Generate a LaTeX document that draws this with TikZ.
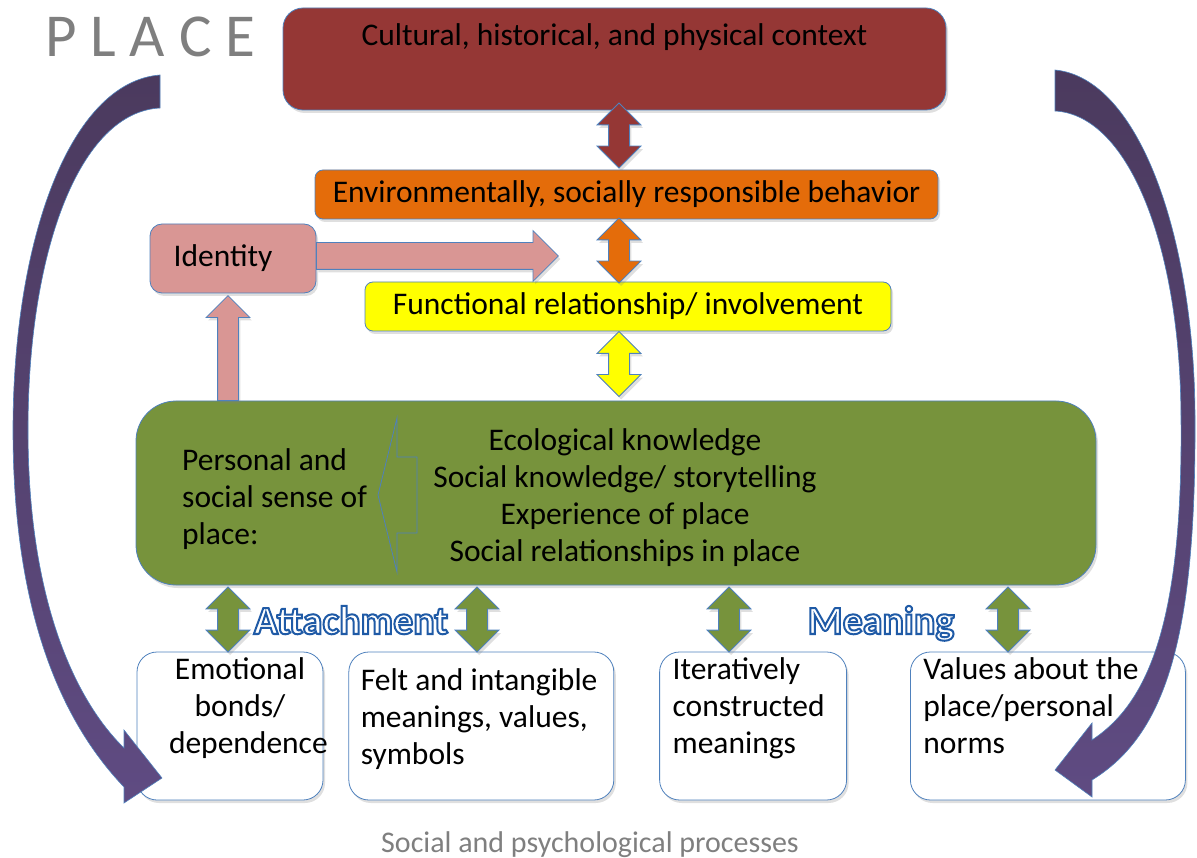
\documentclass[tikz,border=0pt]{standalone}
\usepackage{fontspec}
\setmainfont{Carlito}
\usetikzlibrary{shapes, arrows, positioning, shadows}
\definecolor{rojo}{HTML}{953735}
\definecolor{naranja}{HTML}{E46C0A}
\definecolor{amarillo}{HTML}{FFFF00}
\definecolor{rosa}{HTML}{D99694}
\definecolor{verde}{HTML}{77933C}
\definecolor{borde}{HTML}{4F81BD}
\definecolor{gris}{HTML}{7F7F7F}
\definecolor{moradoarriba}{HTML}{4B3A5E}
\definecolor{moradoabajo}{HTML}{5F4B82}
% hollow blue-outlined words
\newcommand{\hueco}[1]{\special{pdf:literal direct q 2 Tr 2 w 0.122 0.353 0.651 RG 1 1 1 rg}#1\special{pdf:literal direct Q}}
\tikzstyle{sombra} = [drop shadow={opacity=0.25, shadow xshift=2pt, shadow yshift=-3pt}]
\tikzstyle{caja} = [draw=borde, line width=0.8pt, rectangle, rounded corners=20pt, inner sep=0pt, sombra]
\tikzstyle{cajablanca} = [caja, fill=white, inner xsep=12pt, inner ysep=6pt, minimum height=148pt]
\tikzstyle{flechadoble} = [double arrow, draw=borde, line width=0.8pt, rotate=90, minimum height=65pt, inner xsep=0pt, inner ysep=10pt, double arrow head extend=11.5pt, sombra]
\tikzstyle{flecha} = [single arrow, draw=borde, line width=0.8pt, inner xsep=0pt, sombra]
\tikzstyle{curva} = [draw=borde, line width=0.6pt, top color=moradoarriba, bottom color=moradoabajo]
\tikzstyle{palabra} = [font=\fontsize{40}{48}\selectfont\bfseries, anchor=base, inner sep=0pt]

\begin{document}
\begin{tikzpicture}[x=1pt, y=-1pt, every node/.style={font=\fontsize{31.5}{37}\selectfont}]
	\useasboundingbox (0,0) rectangle (1197,858);
	% upper chain
	\node [caja, fill=rojo, minimum width=663pt, text height=38pt, text depth=64pt] (contexto) at (614.5,59) {Cultural, historical, and physical context};
	\node [caja, fill=naranja, rounded corners=8pt, minimum width=623pt, minimum height=49pt] (conducta) at (626.5,194.5) {Environmentally, socially responsible behavior};
	\node [caja, fill=amarillo, rounded corners=8pt, minimum width=526pt, minimum height=49pt] (funcional) at (628,306.5) {Functional relationship/ involvement};
	\node [caja, fill=rosa, rounded corners=12pt, minimum width=166pt, minimum height=69pt] (identidad) at (233,258.5) {\hspace*{-20pt}Identity};
	\node [caja, fill=verde, rounded corners=40pt, minimum width=960pt, minimum height=184pt] (sentido) at (616,493) {};
	\draw [draw=borde, line width=0.8pt] (378,495) -- (397,418) -- (397,457) -- (417,457) -- (417,533) -- (397,533) -- (397,572) -- cycle;
	\node [anchor=north west, align=left, inner sep=0pt] (personal) at (182,448) {Personal and\\social sense of\\place:};
	\node [anchor=north, align=center, inner sep=0pt] (saberes) at (625,428) {Ecological knowledge\\Social knowledge/ storytelling\\Experience of place\\Social relationships in place};

	\node [flechadoble, fill=rojo] (f1) at (619,135.5) {};
	\node [flechadoble, fill=naranja] (f2) at (619,250.5) {};
	\node [flechadoble, fill=amarillo] (f3) at (619,364) {};
	\node [flecha, fill=rosa, minimum height=242pt, inner ysep=13pt, single arrow head extend=12pt, anchor=tail] (haciaconducta) at (316,256) {};
	\node [flecha, fill=rosa, rotate=90, minimum height=105pt, inner ysep=10pt, single arrow head extend=11.5pt, anchor=tail] (haciaidentidad) at (228,401) {};

	% lower boxes
	\node [cajablanca, minimum width=186pt] (emocional) at (230,726) {\begin{minipage}[t][136pt][t]{162pt}\centering\leftskip=20pt plus 1fil Emotional\\ bonds/\\ dependence\end{minipage}};
	\node [cajablanca, minimum width=265pt, right=25pt of emocional] (sentido2) {\begin{minipage}[t][136pt][t]{241pt}\raggedright\vspace*{11pt}Felt and intangible\\ meanings, values,\\ symbols\end{minipage}};
	\node [cajablanca, minimum width=187pt, right=45pt of sentido2] (iterativo) {\begin{minipage}[t][136pt][t]{161pt}\raggedright Iteratively\\ constructed\\ meanings\end{minipage}};
	\node [cajablanca, minimum width=275pt, right=63pt of iterativo] (valores) {\begin{minipage}[t][136pt][t]{249pt}\raggedright Values about the\\ place/personal\\ norms\end{minipage}};

	\foreach \x/\n in {228/g1, 477/g2, 729/g3, 1008/g4}
		\node [flechadoble, fill=verde] (\n) at (\x,619.5) {};
	\node [palabra] (apego) at (351,634) {\hueco{Attachment}};
	\node [palabra] (significado) at (881,634) {\hueco{Meaning}};

	\node [anchor=base west, inner sep=0pt, text=gris, font=\fontsize{61}{72}\selectfont] (titulo) at (45,57) {P L A C E};
	\node [anchor=base, inner sep=0pt, text=gris, font=\fontsize{30}{36}\selectfont] (procesos) at (590,852) {Social and psychological processes};

	% big arcs
	\draw [curva] (160,75) .. controls (70,82) and (13,240) .. (13,430) .. controls (13,610) and (60,720) .. (124,787) -- (124,803) -- (162,778) -- (124,730) -- (124,748) .. controls (75,700) and (28,600) .. (28,430) .. controls (28,250) and (80,112) .. (160,108) -- cycle;
	\draw [curva] (1055,70) .. controls (1140,78) and (1195,240) .. (1195,420) .. controls (1196,640) and (1165,735) .. (1092,780) -- (1092,797) -- (1055,770) -- (1092,723) -- (1092,740) .. controls (1145,705) and (1183,630) .. (1181,420) .. controls (1181,250) and (1130,115) .. (1055,111) -- cycle;
\end{tikzpicture}
\end{document}
